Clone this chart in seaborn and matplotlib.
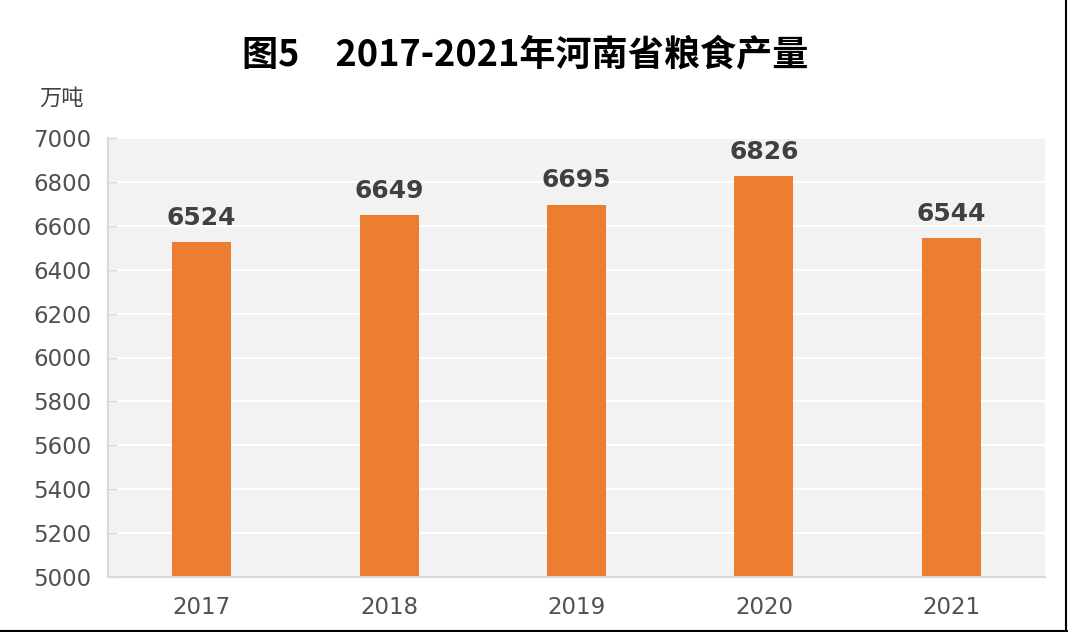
import matplotlib
matplotlib.use("Agg")
import matplotlib.pyplot as plt
from matplotlib.lines import Line2D
import pandas as pd
import seaborn as sns

# data
years = ["2017", "2018", "2019", "2020", "2021"]
output = [6524, 6649, 6695, 6826, 6544]
y_ticks = list(range(5000, 7001, 200))

title = "图5\u30002017-2021年河南省粮食产量"
unit = "万吨"

df = pd.DataFrame({"year": years, "output": output})

sns.set_theme(style="darkgrid")
plt.rcParams["font.family"] = ["DejaVu Sans", "Noto Sans CJK SC"]
cjk = ["Noto Sans CJK SC", "DejaVu Sans"]

fig = plt.figure(figsize=(10.68, 6.32), dpi=100)
ax = fig.add_axes([108 / 1068, 1 - 577 / 632, (1045 - 108) / 1068, (577 - 138) / 632])

sns.barplot(data=df, x="year", y="output", color="#ED7D31", saturation=1,
            width=0.315, linewidth=0, ax=ax)

ax.set_facecolor("#F2F2F2")
ax.set_ylim(5000, 7000)
ax.set_yticks(y_ticks)
ax.set_xlabel("")
ax.set_ylabel("")
ax.grid(axis="y", color="white", linewidth=1.5)
ax.grid(axis="x", visible=False)
ax.set_axisbelow(True)

for side in ["top", "right"]:
    ax.spines[side].set_visible(False)
for side in ["left", "bottom"]:
    ax.spines[side].set_visible(True)
    ax.spines[side].set_color("#D9D9D9")
    ax.spines[side].set_linewidth(1.5)

ax.tick_params(axis="y", direction="in", length=6.5, width=1, color="#D9D9D9",
               labelsize=16.5, labelcolor="#505050", pad=12, left=True)
ax.tick_params(axis="x", length=0, labelsize=16.5, labelcolor="#505050", pad=14)

ax.bar_label(ax.containers[0], labels=[str(v) for v in output], padding=9,
             fontsize=18, fontweight="bold", color="#404040")

fig.text(525 / 1068, 1 - 56 / 632, title, ha="center", va="center",
         fontsize=26, fontweight="bold", color="black", family=cjk)
fig.text(61 / 1068, 1 - 98 / 632, unit, ha="center", va="center",
         fontsize=16, color="#404040", family=cjk)

# thin frame on right and bottom edges like the source image
fig.add_artist(Line2D([0, 1], [0.0015, 0.0015], transform=fig.transFigure,
                      color="black", linewidth=1.5))
fig.add_artist(Line2D([0.9985, 0.9985], [0, 1], transform=fig.transFigure,
                      color="black", linewidth=1.5))

fig.savefig("out.png", dpi=100)
